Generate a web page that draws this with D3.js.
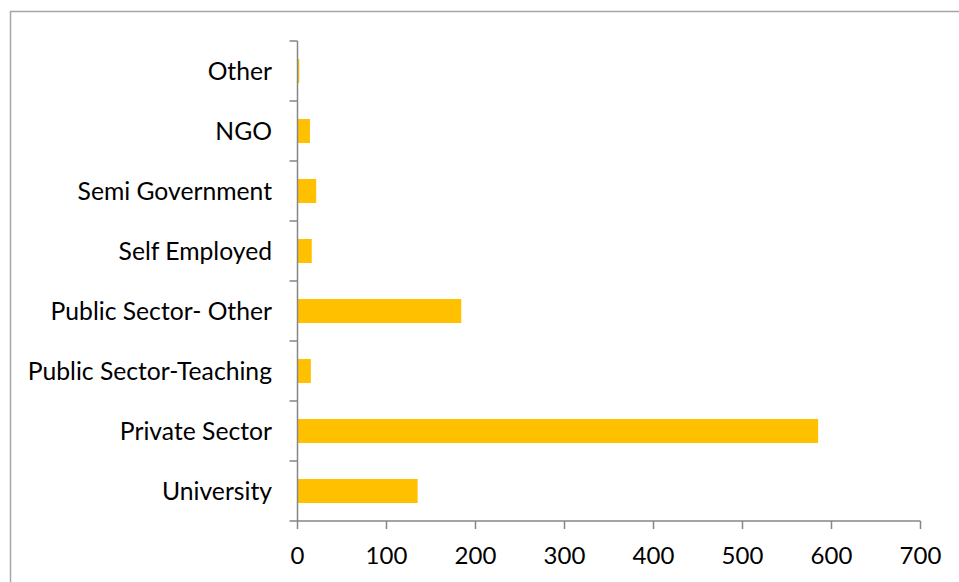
<!DOCTYPE html>
<html><head><meta charset="utf-8">
<script src="https://cdn.jsdelivr.net/npm/d3@7"></script>
<style>body{margin:0;background:#fff}svg{display:block}</style>
</head><body>
<script>
const categories = ["Other","NGO","Semi Government","Self Employed","Public Sector- Other","Public Sector-Teaching","Private Sector","University"];
const values = [2,14,21,16,184,15,585,135];
const xTicks = [0,100,200,300,400,500,600,700];

const W=959,H=582;
const svg=d3.select("body").append("svg").attr("width",W).attr("height",H);
svg.append("rect").attr("x",10.5).attr("y",11.5).attr("width",W+20).attr("height",H+20)
  .attr("fill","none").attr("stroke","#a6a6a6").attr("stroke-width",1.5);

const x=d3.scaleLinear().domain([0,700]).range([297.5,920.5]);
const y=d3.scaleBand().domain(categories).range([41,521]).paddingInner(0.6).paddingOuter(0.3);
const yb=d3.scaleBand().domain(categories).range([41,521]);
const font="Lato, 'Open Sans', sans-serif";

svg.selectAll("rect.bar").data(values).join("rect").attr("class","bar")
  .attr("x",x(0)).attr("y",(d,i)=>y(categories[i]))
  .attr("width",d=>x(d)-x(0)).attr("height",y.bandwidth()).attr("fill","#FFC000");

// y axis
const gy=svg.append("g");
gy.append("line").attr("x1",x(0)).attr("x2",x(0)).attr("y1",41).attr("y2",521).attr("stroke","#868686").attr("stroke-width",1.5);
const yt=[...categories.map(c=>yb(c)),521];
gy.selectAll("line.t").data(yt).join("line").attr("class","t")
  .attr("x1",x(0)-8).attr("x2",x(0)).attr("y1",d=>d).attr("y2",d=>d).attr("stroke","#868686").attr("stroke-width",1.5);
gy.selectAll("text").data(categories).join("text")
  .attr("x",272).attr("y",c=>yb(c)+yb.bandwidth()/2).attr("dy","0.35em")
  .attr("text-anchor","end").attr("font-family",font).attr("font-size",24.7).attr("fill","#000").text(c=>c);

// x axis
const gx=svg.append("g");
gx.append("line").attr("x1",x(0)).attr("x2",x(700)).attr("y1",521).attr("y2",521).attr("stroke","#868686").attr("stroke-width",1.5);
gx.selectAll("line.t").data(xTicks).join("line").attr("class","t")
  .attr("x1",d=>x(d)).attr("x2",d=>x(d)).attr("y1",521).attr("y2",529).attr("stroke","#868686").attr("stroke-width",1.5);
gx.selectAll("text").data(xTicks).join("text")
  .attr("x",d=>x(d)).attr("y",556).attr("dy","0.35em").attr("text-anchor","middle")
  .attr("font-family",font).attr("font-size",24).attr("fill","#000").text(d=>d);
</script>
</body></html>
